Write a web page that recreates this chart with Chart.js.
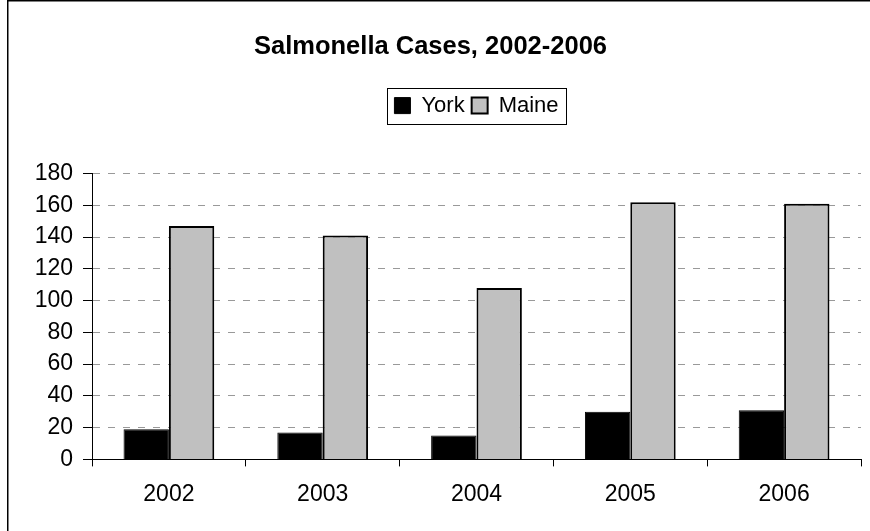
<!DOCTYPE html>
<html>
<head>
<meta charset="utf-8">
<script src="https://cdn.jsdelivr.net/npm/chart.js@4/dist/chart.umd.min.js"></script>
<style>
  html, body { margin: 0; padding: 0; background: #fff; }
  #wrap { width: 870px; height: 531px; position: relative; }
</style>
</head>
<body>
<div id="wrap"><canvas id="myChart"></canvas></div>
<script>
const years = ['2002', '2003', '2004', '2005', '2006']
const york = [19, 17, 15, 30, 31]
const maine = [147, 141, 108, 162, 161]
const yTicks = [0, 20, 40, 60, 80, 100, 120, 140, 160, 180]

const fontName = "'Liberation Sans', Arial, sans-serif"
const legendPad = 7

// marco exterior, caja de la leyenda y espacio extra debajo de la leyenda
const marco = {
    id: 'marco',
    afterInit(chart) {
        const lg = chart.legend
        const fitOrig = lg.fit
        lg.fit = function () {
            fitOrig.call(this)
            this.height += 47
        }
    },
    afterDraw(chart) {
        const ctx = chart.ctx
        ctx.save()
        ctx.strokeStyle = '#000'
        ctx.lineWidth = 1.5
        ctx.strokeRect(7.75, 0.75, 900, 600)
        const boxes = chart.legend.legendHitBoxes
        if (boxes && boxes.length) {
            const first = boxes[0]
            const last = boxes[boxes.length - 1]
            const x1 = Math.round(first.left - legendPad) + 0.5
            const x2 = Math.round(last.left + last.width + legendPad) + 0.5
            const y1 = Math.round(first.top - legendPad) + 0.5
            const y2 = Math.round(first.top + first.height + legendPad) + 0.5
            ctx.lineWidth = 1
            ctx.strokeRect(x1, y1, x2 - x1, y2 - y1)
        }
        ctx.restore()
    }
}

const ctx = document.getElementById('myChart').getContext('2d')
const myChart = new Chart(ctx, {
    type: 'bar',
    data: {
        labels: years,
        datasets: [{
            label: 'York',
            data: york,
            backgroundColor: '#000000',
            borderColor: '#000000',
            borderWidth: 1
        }, {
            label: 'Maine',
            data: maine,
            backgroundColor: '#c0c0c0',
            borderColor: '#000000',
            borderWidth: 2
        }]
    },
    options: {
        responsive: true,
        maintainAspectRatio: false,
        animation: false,
        categoryPercentage: 0.59,
        barPercentage: 1.0,
        layout: { padding: { left: 0, right: 9, top: 0, bottom: 9 } },
        plugins: {
            title: {
                display: true,
                text: 'Salmonella Cases, 2002-2006',
                color: '#000',
                font: { family: fontName, size: 25.5, weight: 'bold' },
                padding: { top: 32, bottom: 25 }
            },
            legend: {
                display: true,
                fullSize: false,
                labels: {
                    color: '#000',
                    font: { family: fontName, size: 22 },
                    boxWidth: 16,
                    boxHeight: 16,
                    padding: legendPad
                }
            },
            tooltip: { enabled: false }
        },
        scales: {
            x: {
                grid: {
                    offset: true,
                    drawOnChartArea: false,
                    drawTicks: true,
                    tickLength: 7,
                    tickColor: '#000'
                },
                border: { display: true, color: '#000', width: 1 },
                ticks: {
                    color: '#000',
                    font: { family: fontName, size: 23 },
                    padding: 14
                }
            },
            y: {
                min: 0,
                max: 180,
                afterBuildTicks(scale) {
                    scale.ticks = yTicks.map(v => ({ value: v }))
                },
                afterFit(scale) {
                    scale.width = 92
                },
                grid: {
                    color: '#999',
                    drawTicks: true,
                    tickLength: 9,
                    tickColor: '#000',
                    tickBorderDash: []
                },
                border: { display: true, color: '#000', width: 1, dash: [7, 8] },
                ticks: {
                    color: '#000',
                    font: { family: fontName, size: 23 },
                    padding: 10
                }
            }
        }
    },
    plugins: [marco]
})
</script>
</body>
</html>
